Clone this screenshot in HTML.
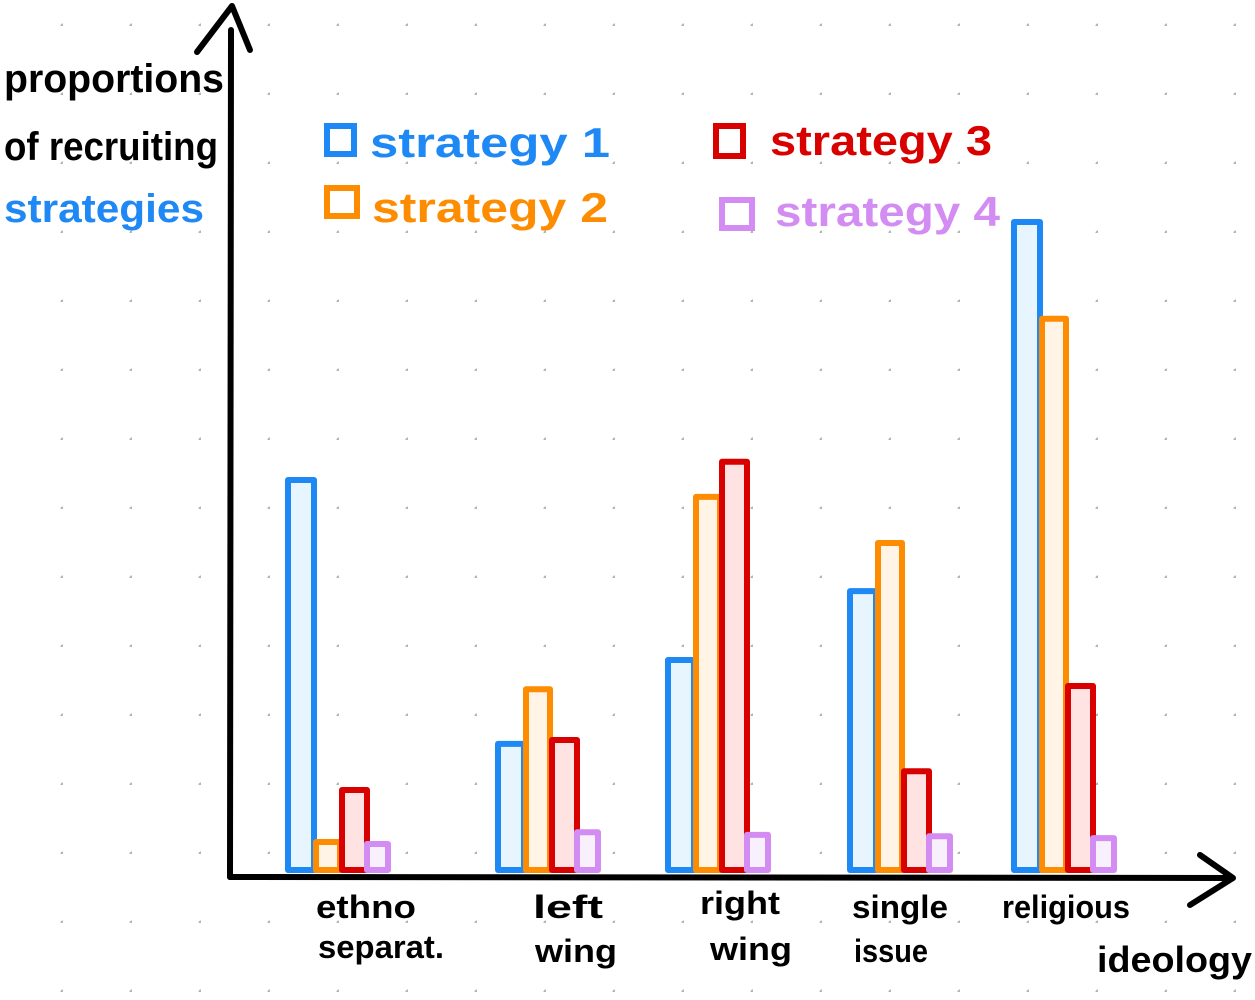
<!DOCTYPE html>
<html><head><meta charset="utf-8">
<style>
html,body{margin:0;padding:0;background:#fff;}
svg{display:block;}
text{font-family:"Liberation Sans",sans-serif;font-weight:bold;}
</style></head>
<body>
<svg id="chart" width="1255" height="1000" viewBox="0 0 1255 1000" xmlns="http://www.w3.org/2000/svg">
<defs>
<pattern id="dots" x="0" y="0" width="69" height="69" patternUnits="userSpaceOnUse" patternTransform="translate(-6,-43)">
<circle cx="69" cy="69" r="2.6" fill="#b4b4b4"/>
</pattern>
</defs>
<rect width="1255" height="1000" fill="url(#dots)"/>
<g id="marks"></g>
<g stroke="#000" stroke-width="6" fill="none" stroke-linecap="round" stroke-linejoin="round">
<path d="M230 877 L231 30"/>
<path d="M197 52 L232 6 L250 50"/>
<path d="M230 877 L1232 878"/>
<path d="M1200 855 L1233 878 L1190 905"/>
</g>
<g font-size="40">
<text x="4" y="92" fill="#000" textLength="220" lengthAdjust="spacingAndGlyphs">proportions</text>
<text x="4" y="160" fill="#000" textLength="214" lengthAdjust="spacingAndGlyphs">of recruiting</text>
<text x="4" y="222" fill="#1e88f5" textLength="200" lengthAdjust="spacingAndGlyphs">strategies</text>
</g>
<g font-size="42">
<g><rect x="327" y="126" width="27" height="28" fill="none" stroke="#1e88f5" stroke-width="6"/><text x="370" y="157" fill="#1e88f5" textLength="240" lengthAdjust="spacingAndGlyphs">strategy 1</text></g>
<g><rect x="327" y="188" width="30" height="28" fill="none" stroke="#fd8c00" stroke-width="6"/><text x="372" y="222" fill="#fd8c00" textLength="236" lengthAdjust="spacingAndGlyphs">strategy 2</text></g>
<g><rect x="716" y="126" width="27" height="30" fill="none" stroke="#d90000" stroke-width="6"/><text x="770" y="155" fill="#d90000" textLength="222" lengthAdjust="spacingAndGlyphs">strategy 3</text></g>
<g><rect x="722" y="200" width="30" height="28" fill="none" stroke="#d38cf2" stroke-width="6"/><text x="775" y="226" fill="#d38cf2" textLength="225" lengthAdjust="spacingAndGlyphs">strategy 4</text></g>
</g>
<g font-size="32" fill="#000">
<text x="316" y="918" textLength="100" lengthAdjust="spacingAndGlyphs">ethno</text>
<text x="318" y="958" textLength="126" lengthAdjust="spacingAndGlyphs">separat.</text>
<text x="533" y="918" textLength="70" lengthAdjust="spacingAndGlyphs">left</text>
<text x="535" y="962" textLength="82" lengthAdjust="spacingAndGlyphs">wing</text>
<text x="700" y="914" textLength="80" lengthAdjust="spacingAndGlyphs">right</text>
<text x="710" y="960" textLength="82" lengthAdjust="spacingAndGlyphs">wing</text>
<text x="852" y="918" textLength="96" lengthAdjust="spacingAndGlyphs">single</text>
<text x="854" y="962" textLength="74" lengthAdjust="spacingAndGlyphs">issue</text>
<text x="1002" y="918" textLength="128" lengthAdjust="spacingAndGlyphs">religious</text>
</g>
<text x="1097" y="972" font-size="36" fill="#000" textLength="155" lengthAdjust="spacingAndGlyphs">ideology</text>
</svg>
<script>
const categories = ["ethno separat.", "left wing", "right wing", "single issue", "religious"];
const strategy1 = [60, 19.4, 32.3, 42.9, 99.7];
const strategy2 = [4.3, 27.8, 57.4, 50.3, 84.8];
const strategy3 = [12.3, 20, 62.8, 15.2, 28.3];
const strategy4 = [4, 5.8, 5.4, 5.2, 4.9];
const seriesNames = ["strategy-1", "strategy-2", "strategy-3", "strategy-4"];

const baseY = 870, pxPerUnit = 6.5;
function yScale(v){ return baseY - v * pxPerUnit; }
const groupStart = [288, 498, 668, 850, 1014];
function xScale(i){ return groupStart[i]; }
const offsets = [0, 28, 54, 79];
const widths = [26, 24, 25, 21];
const strokes = ["#1e88f5", "#fd8c00", "#d90000", "#d38cf2"];
const fills = ["#e7f5ff", "#fff4e6", "#ffe3e3", "#f8f0fc"];
const all = [strategy1, strategy2, strategy3, strategy4];
const g = document.getElementById('marks');
const NS = "http://www.w3.org/2000/svg";
categories.forEach((c, i) => {
  all.forEach((s, k) => {
    const r = document.createElementNS(NS, 'rect');
    const top = yScale(s[i]);
    r.setAttribute('x', xScale(i) + offsets[k]);
    r.setAttribute('y', top);
    r.setAttribute('width', widths[k]);
    r.setAttribute('height', baseY - top);
    r.setAttribute('fill', fills[k]);
    r.setAttribute('stroke', strokes[k]);
    r.setAttribute('stroke-width', 6);
    r.setAttribute('stroke-linejoin', 'round');
    
    
    g.appendChild(r);
  });
});
</script>
</body></html>
